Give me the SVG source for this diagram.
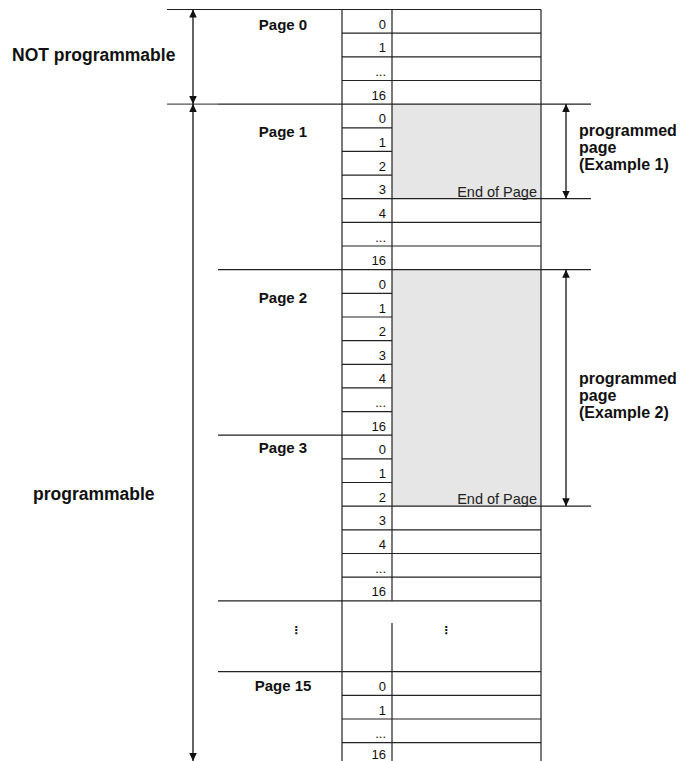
<svg xmlns="http://www.w3.org/2000/svg" width="682" height="761" viewBox="0 0 682 761">
<style>
.ln{stroke:#222;stroke-width:1.2;fill:none}
.lt{stroke:#555;stroke-width:1.2;fill:none}
.fill{fill:#e6e6e6;stroke:none}
.num{font-family:"Liberation Sans",Arial,sans-serif;font-size:13px;fill:#111;text-anchor:end}
.lbl{font-family:"Liberation Sans",Arial,sans-serif;font-size:15px;font-weight:bold;fill:#111;text-anchor:middle}
.big{font-family:"Liberation Sans",Arial,sans-serif;font-size:17.5px;font-weight:bold;fill:#111}
.side{font-family:"Liberation Sans",Arial,sans-serif;font-size:16px;font-weight:bold;fill:#111}
.eop{font-family:"Liberation Sans",Arial,sans-serif;font-size:14.5px;fill:#222;text-anchor:end}
.dots{font-family:"DejaVu Sans",sans-serif;font-size:11px;font-weight:bold;fill:#111;text-anchor:middle}
.arr{stroke:#111;stroke-width:1.3;fill:none;marker-start:url(#ah);marker-end:url(#ah)}
</style>
<defs>
<marker id="ah" viewBox="0 0 8 10" refX="8" refY="5" markerWidth="8" markerHeight="10" markerUnits="userSpaceOnUse" orient="auto-start-reverse">
<path d="M0,1.2 L8,5 L0,8.8 Z" fill="#111"/>
</marker>
</defs>

<!-- gray programmed areas -->
<rect class="fill" x="392" y="104.1" width="149" height="94.6"/>
<rect class="fill" x="392" y="269.7" width="149" height="236.5"/>

<g id="page0">
<path class="ln" d="M167,9.5H541 M342,33.2H541 M342,56.8H541 M342,80.5H541"/>
<text class="lbl" x="283" y="30">Page 0</text>
<text class="num" x="386" y="28.7">0</text>
<text class="num" x="386" y="52.3">1</text>
<text class="num" x="386" y="76">...</text>
<text class="num" x="386" y="99.6">16</text>
</g>

<g id="page1">
<path class="lt" d="M167,104.1H218"/>
<path class="ln" d="M218,104.1H591 M342,127.8H392 M342,151.4H392 M342,175.1H392 M342,198.7H591 M342,222.4H541 M342,246H541"/>
<text class="lbl" x="283" y="137">Page 1</text>
<text class="num" x="386" y="123.3">0</text>
<text class="num" x="386" y="146.9">1</text>
<text class="num" x="386" y="170.6">2</text>
<text class="num" x="386" y="194.2">3</text>
<text class="num" x="386" y="217.9">4</text>
<text class="num" x="386" y="241.5">...</text>
<text class="num" x="386" y="265.2">16</text>
<text class="eop" x="537" y="196.5">End of Page</text>
</g>

<g id="page2">
<path class="ln" d="M218,269.7H591 M342,293.3H392 M342,317H392 M342,340.6H392 M342,364.3H392 M342,387.9H392 M342,411.6H392"/>
<text class="lbl" x="283" y="303">Page 2</text>
<text class="num" x="386" y="288.8">0</text>
<text class="num" x="386" y="312.5">1</text>
<text class="num" x="386" y="336.1">2</text>
<text class="num" x="386" y="359.8">3</text>
<text class="num" x="386" y="383.4">4</text>
<text class="num" x="386" y="407.1">...</text>
<text class="num" x="386" y="430.7">16</text>
</g>

<g id="page3">
<path class="ln" d="M218,435.2H392 M342,458.9H392 M342,482.5H392 M342,506.2H591 M342,529.8H541 M342,553.5H541 M342,577.1H541"/>
<text class="lbl" x="283" y="453">Page 3</text>
<text class="num" x="386" y="454.4">0</text>
<text class="num" x="386" y="478">1</text>
<text class="num" x="386" y="501.7">2</text>
<text class="num" x="386" y="525.3">3</text>
<text class="num" x="386" y="549">4</text>
<text class="num" x="386" y="572.6">...</text>
<text class="num" x="386" y="596.3">16</text>
<text class="eop" x="537" y="504">End of Page</text>
</g>

<g id="gap">
<path class="ln" d="M218,600.8H541 M392,623V671.7"/>
<text class="dots" x="296" y="634">⋮</text>
<text class="dots" x="446" y="634">⋮</text>
</g>

<g id="page15">
<path class="ln" d="M218,671.7H541 M342,695.4H541 M342,719H541 M342,742.7H541"/>
<text class="lbl" x="283" y="691">Page 15</text>
<text class="num" x="386" y="690.9">0</text>
<text class="num" x="386" y="714.5">1</text>
<text class="num" x="386" y="738.2">...</text>
<text class="num" x="386" y="759">16</text>
</g>

<g id="columns">
<path class="ln" d="M342,9.5V761 M392,9.5V600.8 M392,671.7V761 M541,9.5V761"/>
</g>

<g id="labels">
<text class="big" x="12" y="61">NOT programmable</text>
<text class="big" x="33" y="500">programmable</text>
<text class="side" x="579" y="136">programmed</text>
<text class="side" x="579" y="153">page</text>
<text class="side" x="579" y="170">(Example 1)</text>
<text class="side" x="579" y="384">programmed</text>
<text class="side" x="579" y="401">page</text>
<text class="side" x="579" y="418">(Example 2)</text>
</g>

<g id="connectors">
<line class="arr" x1="193" y1="9.5" x2="193" y2="104.1"/>
<line class="arr" x1="193" y1="104.1" x2="193" y2="761"/>
<line class="arr" x1="566" y1="104.1" x2="566" y2="198.7"/>
<line class="arr" x1="566" y1="269.7" x2="566" y2="506.2"/>
</g>
</svg>
